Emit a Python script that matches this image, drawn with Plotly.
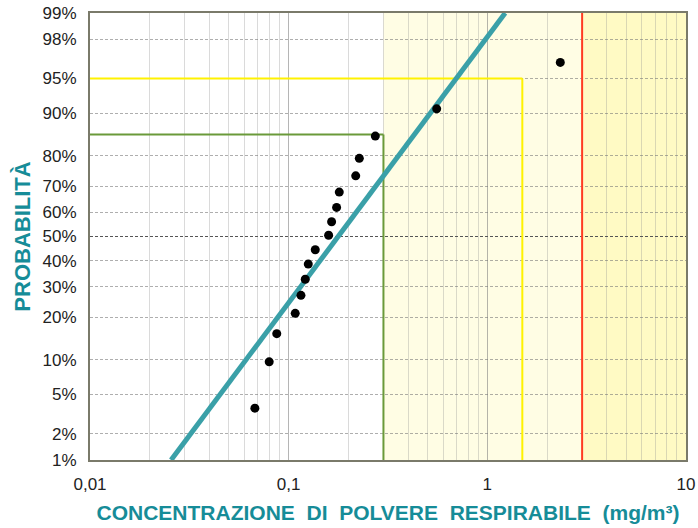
"""
Log-probability plot of respirable dust concentration samples, with the
fitted lognormal line and the reference limits drawn as coloured frames.
"""

from statistics import NormalDist
import plotly.graph_objects as go


# measured samples: concentration (mg/m3) and plotting probability
CONC = [0.0676, 0.0798, 0.0871, 0.1079, 0.1153, 0.1212, 0.1255, 0.1361,
        0.1589, 0.1645, 0.1743, 0.1798, 0.2175, 0.2268, 0.273, 0.556, 2.33]
PROB = [0.037, 0.096, 0.156, 0.212, 0.270, 0.328, 0.387, 0.445,
        0.505, 0.561, 0.619, 0.678, 0.736, 0.792, 0.852, 0.908, 0.965]

# fitted lognormal line, read at the 1% and 99% edges
FIT_CONC = [0.0256, 1.23]
FIT_PROB = [0.01, 0.99]

# limits
GREEN_CONC, GREEN_PROB = 0.3, 0.856
YELLOW_CONC, YELLOW_PROB = 1.5, 0.95
RED_CONC = 3.0

Y_TICKS = [1, 2, 5, 10, 20, 30, 40, 50, 60, 70, 80, 90, 95, 98, 99]
X_TICKS = [0.01, 0.1, 1, 10]
X_TICKTEXT = ['0,01', '0,1', '1', '10']

TEAL = 'rgb(58,160,168)'
TITLE_TEAL = 'rgb(22,140,152)'
ND = NormalDist()


def z(p):
    """Probability -> normal quantile (the probability axis scale)."""
    return ND.inv_cdf(p)


def frame(fig, conc, prob, color):
    """Top and right edges of a limit box starting at the axes corner."""
    zmin = z(0.01)
    fig.add_shape(type='line', xref='x', yref='y', x0=0.01, x1=conc,
                  y0=z(prob), y1=z(prob), layer='between',
                  line=dict(color=color, width=2))
    fig.add_shape(type='line', xref='x', yref='y', x0=conc, x1=conc,
                  y0=zmin, y1=z(prob), layer='between',
                  line=dict(color=color, width=2))


def main():
    zmin, zmax = z(0.01), z(0.99)
    fig = go.Figure()

    # background bands
    fig.add_shape(type='rect', xref='x', yref='y', x0=GREEN_CONC,
                  x1=RED_CONC, y0=zmin, y1=zmax, layer='below',
                  line_width=0, fillcolor='#FFFDE4')
    fig.add_shape(type='rect', xref='x', yref='y', x0=RED_CONC, x1=10,
                  y0=zmin, y1=zmax, layer='below',
                  line_width=0, fillcolor='#FFFAC4')

    # 50% line
    fig.add_shape(type='line', xref='x', yref='y', x0=0.01, x1=10,
                  y0=0, y1=0, layer='between',
                  line=dict(color='#555555', width=1, dash='3px,2px'))

    frame(fig, YELLOW_CONC, YELLOW_PROB, '#FFF200')
    frame(fig, GREEN_CONC, GREEN_PROB, '#6A9A3A')
    fig.add_shape(type='line', xref='x', yref='y', x0=RED_CONC,
                  x1=RED_CONC, y0=zmin, y1=zmax, layer='between',
                  line=dict(color='#FF3B22', width=2))

    fig.add_trace(go.Scatter(x=FIT_CONC, y=[z(p) for p in FIT_PROB],
                             mode='lines', line=dict(color=TEAL, width=5),
                             showlegend=False))
    fig.add_trace(go.Scatter(x=CONC, y=[z(p) for p in PROB],
                             mode='markers',
                             marker=dict(color='black', size=9),
                             showlegend=False))

    minor_vals = [m * d for d in (0.01, 0.1, 1) for m in range(2, 10)]
    fig.update_xaxes(type='log', range=[-2, 1], tickvals=X_TICKS,
                     ticktext=X_TICKTEXT, showgrid=True, automargin=False,
                     gridcolor='rgba(120,120,120,0.55)', gridwidth=1,
                     minor=dict(tickvals=minor_vals, showgrid=True,
                                gridcolor='rgba(150,150,150,0.35)',
                                gridwidth=1),
                     showline=True, mirror=True, linecolor='#7a7a6a',
                     linewidth=2, ticks='', zeroline=False,
                     ticklabelstandoff=8,
                     tickfont=dict(size=17, color='#222222'),
                     title=dict(text='CONCENTRAZIONE  DI  POLVERE  '
                                     'RESPIRABILE  (mg/m³)',
                                font=dict(size=21, color=TITLE_TEAL,
                                          weight='bold'),
                                standoff=12))
    fig.update_yaxes(range=[zmin, zmax], tickvals=[z(v / 100) for v in Y_TICKS],
                     ticktext=[f'{v}%' for v in Y_TICKS], showgrid=True,
                     gridcolor='rgba(120,120,120,0.6)', griddash='3px,2px',
                     gridwidth=1, showline=True, mirror=True,
                     linecolor='#7a7a6a', linewidth=2, ticks='',
                     zeroline=False, automargin=False,
                     ticklabelstandoff=8,
                     tickfont=dict(size=17, color='#222222'),
                     title=dict(text='PROBABILITÀ',
                                font=dict(size=22, color=TITLE_TEAL,
                                          weight='bold'),
                                standoff=6))
    fig.update_layout(width=698, height=528, paper_bgcolor='white',
                      plot_bgcolor='white',
                      font=dict(family='Liberation Sans, Arial, sans-serif'),
                      margin=dict(l=90, r=12, t=13, b=68))
    # drop the default page margin so the figure sits at the window corner
    fig.write_html('out.html', config={'displayModeBar': False},
                   post_script="document.body.style.margin='0';")


if __name__ == '__main__':
    main()
